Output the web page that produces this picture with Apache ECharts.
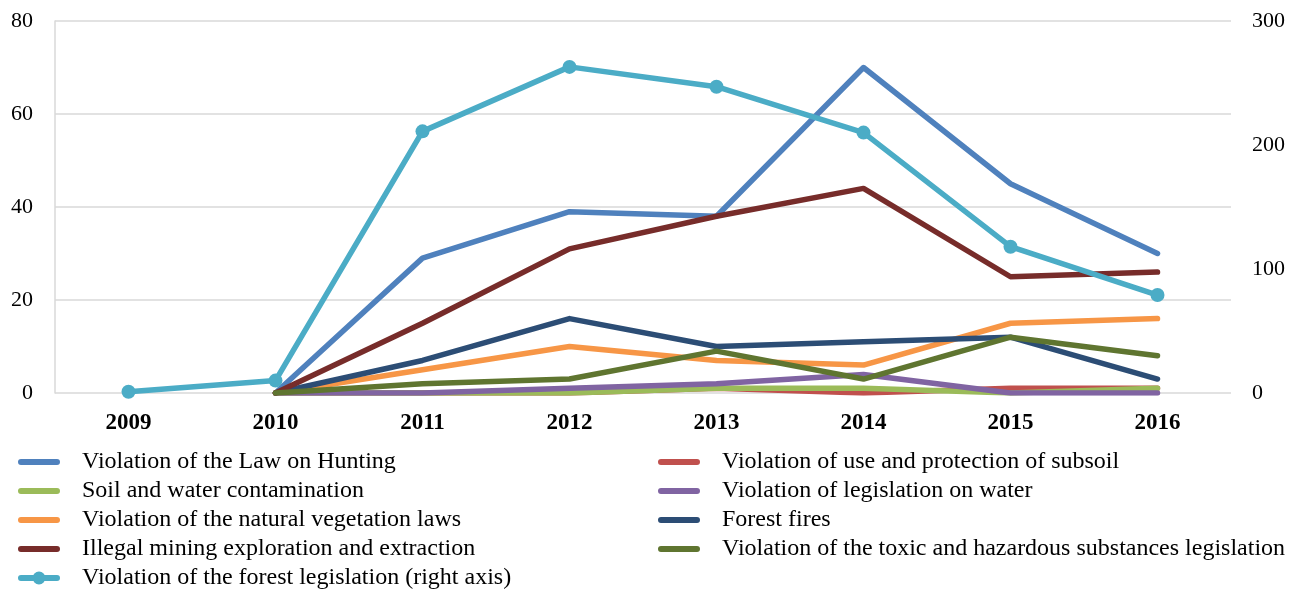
<!DOCTYPE html>
<html>
<head>
<meta charset="utf-8">
<script src="https://cdn.jsdelivr.net/npm/echarts@6/dist/echarts.min.js"></script>
<style>
  html, body { margin: 0; padding: 0; background: #ffffff; }
  #chart { width: 1299px; height: 593px; }
</style>
</head>
<body>
<div id="chart"></div>
<script>
// Yearly case counts by type of environmental offence
const years = ['2009', '2010', '2011', '2012', '2013', '2014', '2015', '2016'];

const hunting    = [null, 0, 29, 39, 38, 70, 45, 30];
const subsoil    = [null, 0, 0, 0, 1, 0, 1, 1];
const soilWater  = [null, 0, 0, 0, 1, 1, 0, 1];
const water      = [null, 0, 0, 1, 2, 4, 0, 0];
const vegetation = [null, 0, 5, 10, 7, 6, 15, 16];
const fires      = [null, 0, 7, 16, 10, 11, 12, 3];
const mining     = [null, 0, 15, 31, 38, 44, 25, 26];
const toxic      = [null, 0, 2, 3, 9, 3, 12, 8];
const forestLeg  = [1, 10, 211, 263, 247, 210, 118, 79]; // right axis

const leftTicks = [0, 20, 40, 60, 80];
const rightTicks = [0, 100, 200, 300];

const names = [
  'Violation of the Law on Hunting',
  'Violation of use and protection of subsoil',
  'Soil and water contamination',
  'Violation of legislation on water',
  'Violation of the natural vegetation laws',
  'Forest fires',
  'Illegal mining exploration and extraction',
  'Violation of the toxic and hazardous substances legislation',
  'Violation of the forest legislation (right axis)'
];
const colors = ['#4F81BD', '#C0504D', '#9BBB59', '#8064A2', '#F79646', '#2C4D75', '#772C2A', '#5F7530', '#4BACC6'];
const values = [hunting, subsoil, soilWater, water, vegetation, fires, mining, toxic];

const font = '"Liberation Serif", "Times New Roman", serif';

// Legend glyphs: a thick rounded bar; tiny corner dots fix the box at 42x13
const bbox = ' M0,0 h0.01 v0.01 h-0.01 Z M41.99,12.99 h0.01 v0.01 h-0.01 Z';
const bar = 'M3,3.5 h36 a3,3 0 0 1 0,6 h-36 a3,3 0 0 1 0,-6 Z';
const barIcon = 'path://' + bar + bbox;
const markerIcon = 'path://' + bar +
  ' M14.5,6.5 a6.5,6.5 0 1 1 13,0 a6.5,6.5 0 1 1 -13,0 Z' + bbox;

const series = values.map((v, i) => ({
  name: names[i],
  type: 'line',
  data: v,
  yAxisIndex: 0,
  symbol: 'none',
  lineStyle: { width: 5.5, color: colors[i], cap: 'round', join: 'round' },
  itemStyle: { color: colors[i] },
  z: 2
}));
series.push({
  name: names[8],
  type: 'line',
  data: forestLeg,
  yAxisIndex: 1,
  symbol: 'circle',
  symbolSize: 14,
  lineStyle: { width: 5.5, color: colors[8], cap: 'round', join: 'round' },
  itemStyle: { color: colors[8] },
  z: 3
});

const legendItem = (i) => ({ name: names[i], icon: i === 8 ? markerIcon : barIcon });

const legendCommon = {
  orient: 'vertical',
  itemWidth: 42,
  itemHeight: 13,
  itemGap: 5,
  padding: 0,
  formatter: (n) => '{t|' + n + '}',
  textStyle: {
    rich: {
      t: { fontFamily: font, fontSize: 24, color: '#000', padding: [0, 0, 0, 17] }
    }
  }
};

const chart = echarts.init(document.getElementById('chart'));
chart.setOption({
  animation: false,
  backgroundColor: '#ffffff',
  grid: { left: 55, right: 68, top: 21, bottom: 200 },
  legend: [
    Object.assign({}, legendCommon, {
      left: 18, top: 450,
      data: [0, 2, 4, 6, 8].map(legendItem)
    }),
    Object.assign({}, legendCommon, {
      left: 658, top: 450,
      data: [1, 3, 5, 7].map(legendItem)
    })
  ],
  xAxis: {
    type: 'category',
    data: years,
    boundaryGap: true,
    axisLine: { show: false },
    axisTick: { show: false },
    axisLabel: { fontFamily: font, fontSize: 23, fontWeight: 'bold', color: '#000', margin: 19 }
  },
  yAxis: [
    {
      type: 'value',
      min: leftTicks[0],
      max: leftTicks[leftTicks.length - 1],
      interval: 20,
      axisLine: { show: true, lineStyle: { color: '#d9d9d9', width: 1.5 } },
      axisTick: { show: false },
      splitLine: { lineStyle: { color: '#d9d9d9', width: 1.5 } },
      axisLabel: { fontFamily: font, fontSize: 22, color: '#000', margin: 22 }
    },
    {
      type: 'value',
      min: rightTicks[0],
      max: rightTicks[rightTicks.length - 1],
      interval: 100,
      position: 'right',
      axisLine: { show: false },
      axisTick: { show: false },
      splitLine: { show: false },
      axisLabel: { fontFamily: font, fontSize: 22, color: '#000', margin: 21 }
    }
  ],
  series: series
});
</script>
</body>
</html>
